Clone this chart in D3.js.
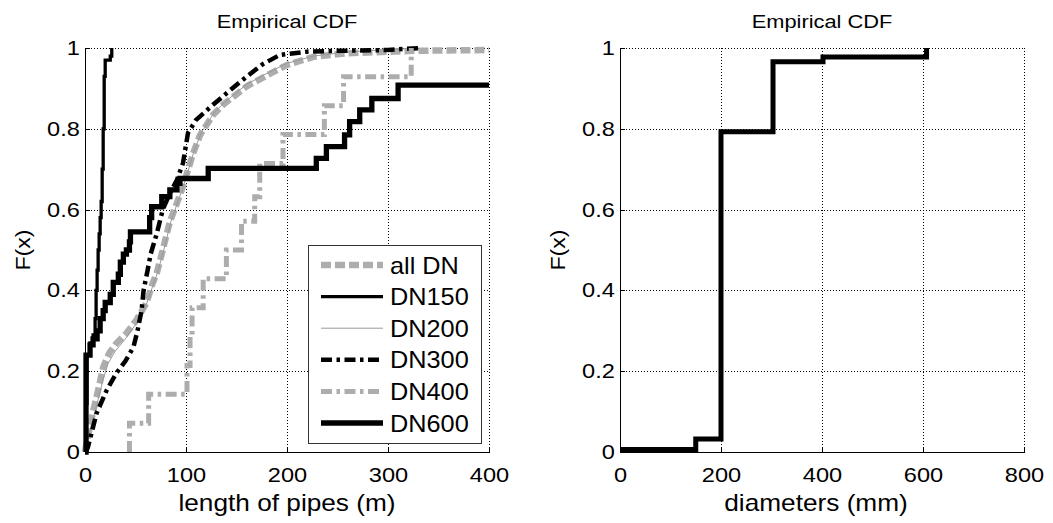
<!DOCTYPE html>
<html><head><meta charset="utf-8">
<script src="https://cdn.jsdelivr.net/npm/d3@7"></script>
<style>
html,body{margin:0;padding:0;background:#fff;}
svg{display:block;}
text{font-family:"Liberation Sans",Arial,sans-serif;fill:#000;}
</style></head>
<body>
<svg id="chart" width="1053" height="523"></svg>
<script>
// ---------- data ----------
const lengthTicks = [0, 100, 200, 300, 400];
const diameterTicks = [0, 200, 400, 600, 800];
const fTicks = [0, 0.2, 0.4, 0.6, 0.8, 1];
const fTickLabels = ["0", "0.2", "0.4", "0.6", "0.8", "1"];
const seriesNames = ["all DN", "DN150", "DN200", "DN300", "DN400", "DN600"];

// empirical CDFs of pipe length (m)
const allDN_x = [0, 2, 5, 8, 11.5, 15, 18, 24, 31, 41, 51, 61, 67, 71, 77, 84, 91, 96, 101, 107, 114, 127, 137, 160, 186, 200, 226, 259, 325, 400];
const allDN_F = [0, 0.03, 0.063, 0.1, 0.137, 0.175, 0.21, 0.245, 0.269, 0.294, 0.327, 0.37, 0.418, 0.442, 0.5, 0.57, 0.616, 0.65, 0.69, 0.739, 0.785, 0.835, 0.86, 0.905, 0.94, 0.958, 0.978, 0.987, 0.993, 0.995];

const dn150_x = [0, 1, 2, 5, 8, 10, 11, 12, 13, 14, 15, 16, 17, 18, 19, 20, 25, 26.5];
const dn150_F = [0, 0.12, 0.24, 0.27, 0.29, 0.33, 0.4, 0.45, 0.5, 0.54, 0.58, 0.62, 0.7, 0.8, 0.93, 0.97, 0.98, 1.0];

const dn200_x = [0, 3, 6, 10, 14, 18, 23, 30, 40, 50, 60, 67, 72, 78, 85, 92, 97, 102, 108, 115, 128, 138, 160, 186, 200, 226, 259, 300, 330];
const dn200_F = [0, 0.03, 0.065, 0.1, 0.14, 0.18, 0.22, 0.25, 0.28, 0.315, 0.36, 0.41, 0.445, 0.5, 0.57, 0.62, 0.655, 0.695, 0.745, 0.79, 0.84, 0.865, 0.91, 0.945, 0.962, 0.98, 0.99, 0.996, 1.0];

const dn300_x = [1, 3, 11.5, 21.5, 31, 40, 48, 52, 56, 58, 62, 65, 71, 77, 84, 91, 97, 100, 102, 110, 127, 144, 160, 176, 193, 220, 250, 300, 332];
const dn300_F = [0, 0.013, 0.096, 0.153, 0.195, 0.225, 0.26, 0.3, 0.35, 0.4, 0.45, 0.49, 0.54, 0.6, 0.64, 0.673, 0.715, 0.76, 0.79, 0.822, 0.86, 0.896, 0.929, 0.96, 0.983, 0.991, 0.993, 0.995, 1.0];

const dn400_x = [44, 44, 63, 101, 104, 106, 117, 140, 155, 168, 173, 196, 237, 256, 323];
const dn400_F = [0, 0.071, 0.143, 0.214, 0.286, 0.357, 0.429, 0.5, 0.571, 0.632, 0.714, 0.786, 0.857, 0.929, 1.0];

const dn600_x = [0, 1, 5, 8, 12, 15, 18, 20, 25, 28, 33, 35, 38, 41, 44, 45, 64, 66, 76, 84, 91, 94, 122, 229, 239, 257, 262, 272, 284, 310, 400];
const dn600_F = [0, 0.24, 0.265, 0.28, 0.3, 0.33, 0.35, 0.37, 0.39, 0.42, 0.44, 0.47, 0.49, 0.5, 0.52, 0.545, 0.58, 0.607, 0.632, 0.649, 0.665, 0.677, 0.702, 0.727, 0.756, 0.785, 0.818, 0.847, 0.875, 0.908, 0.908];

// empirical CDF of diameters (mm)
const diam_x = [0, 150, 200, 303, 402, 607];
const diam_F = [0.006, 0.032, 0.793, 0.966, 0.978, 1.0];

// ---------- drawing ----------
const svg = d3.select("#chart");
const FONT = '"Liberation Sans",Arial,sans-serif';
const GRAY = "#adadad";

function zip(xs, ys) { return xs.map((v, i) => [v, ys[i]]); }

function txt(g, x, y, s, size, sx, anchor, rot) {
  let tr = `translate(${x},${y})`;
  if (rot) tr += ` rotate(${rot})`;
  tr += ` scale(${sx},1)`;
  return g.append("text").attr("transform", tr).attr("text-anchor", anchor || "middle")
    .style("font-size", size + "px").text(s);
}

function makeAxes(x0, x1, xDomain, xTicks, title, xlabel, labelShift) {
  const x = d3.scaleLinear().domain(xDomain).range([x0, x1]);
  const y = d3.scaleLinear().domain([0, 1]).range([452, 48]);
  const g = svg.append("g");
  // grid
  const grid = g.append("g").attr("stroke", "#000").attr("stroke-width", 1)
    .attr("stroke-dasharray", "1,2").attr("shape-rendering", "crispEdges");
  xTicks.filter(t => t !== xDomain[0]).forEach(t => {
    grid.append("line").attr("x1", Math.round(x(t)) + 0.5).attr("x2", Math.round(x(t)) + 0.5)
      .attr("y1", y(1)).attr("y2", y(0));
  });
  fTicks.filter(t => t !== 0).forEach(t => {
    grid.append("line").attr("y1", Math.round(y(t)) + 0.5).attr("y2", Math.round(y(t)) + 0.5)
      .attr("x1", x(xDomain[0])).attr("x2", x(xDomain[1]));
  });
  // axes
  const ax = g.append("g").attr("transform", `translate(0,${y(0)})`)
    .call(d3.axisBottom(x).tickValues(xTicks).tickSize(-5).tickSizeOuter(0).tickPadding(15).tickFormat(d3.format("d")));
  ax.selectAll("text").attr("transform", "scale(1.15,1)").style("font-size", "20.5px").style("font-family", FONT);
  const ay = g.append("g").attr("transform", `translate(${x(xDomain[0])},0)`)
    .call(d3.axisLeft(y).tickValues(fTicks).tickSize(-5).tickSizeOuter(0).tickPadding(4.5)
      .tickFormat((d, i) => fTickLabels[i]));
  ay.selectAll("text").attr("transform", "scale(1.15,1)").style("font-size", "20.5px").style("font-family", FONT);
  g.selectAll(".domain").attr("stroke", "#000").attr("shape-rendering", "crispEdges");
  g.selectAll(".tick line").attr("stroke", "#000").attr("shape-rendering", "crispEdges");
  // labels
  const cx = (x0 + x1) / 2;
  txt(g, cx, 28, title, 18.5, 1.18);
  txt(g, cx + labelShift, 511, xlabel, 23, 1.14);
  txt(g, x0 - 55, 250, "F(x)", 21, 1.1, "middle", -90);
  return { x, y, g };
}

const L = makeAxes(85, 489, [0, 400], lengthTicks, "Empirical CDF", "length of pipes (m)", 0);
const R = makeAxes(620, 1024, [0, 800], diameterTicks, "Empirical CDF", "diameters (mm)", -6);

const styles = [
  { data: zip(allDN_x, allDN_F), color: GRAY, width: 6.5, dash: "10,4", curve: d3.curveLinear },
  { data: zip(dn150_x, dn150_F), color: "#000", width: 3.3, dash: null, curve: d3.curveStepAfter },
  { data: zip(dn200_x, dn200_F), color: "#999", width: 1, dash: null, curve: d3.curveLinear },
  { data: zip(dn300_x, dn300_F), color: "#000", width: 4.5, dash: "11,4.5,3.5,4.5", curve: d3.curveLinear },
  { data: zip(dn400_x, dn400_F), color: GRAY, width: 5, dash: "11,4.5,3.5,4.5", curve: d3.curveStepAfter },
  { data: zip(dn600_x, dn600_F), color: "#000", width: 5.3, dash: null, curve: d3.curveStepAfter }
];

const lineL = d3.line().x(d => L.x(d[0])).y(d => L.y(d[1]));
styles.forEach(s => {
  L.g.append("path").attr("d", lineL.curve(s.curve)(s.data))
    .attr("fill", "none").attr("stroke", s.color).attr("stroke-width", s.width)
    .attr("stroke-dasharray", s.dash).attr("stroke-linejoin", "miter");
});

const lineR = d3.line().x(d => R.x(d[0])).y(d => R.y(d[1])).curve(d3.curveStepAfter);
R.g.append("path").attr("d", lineR(zip(diam_x, diam_F)))
  .attr("fill", "none").attr("stroke", "#000").attr("stroke-width", 5);

// legend
const lg = L.g.append("g");
lg.append("rect").attr("x", 308.5).attr("y", 245.5).attr("width", 173).attr("height", 198)
  .attr("fill", "#fff").attr("stroke", "#333").attr("stroke-width", 1).attr("shape-rendering", "crispEdges");
seriesNames.forEach((name, i) => {
  const yy = 265 + i * 31.6;
  const s = styles[i];
  lg.append("line").attr("x1", 321).attr("x2", 383).attr("y1", yy).attr("y2", yy)
    .attr("stroke", s.color).attr("stroke-width", s.width).attr("stroke-dasharray", s.dash);
  txt(lg, 390, yy + 8.5, name, 23, 1.1, "start");
});
</script>
</body></html>
